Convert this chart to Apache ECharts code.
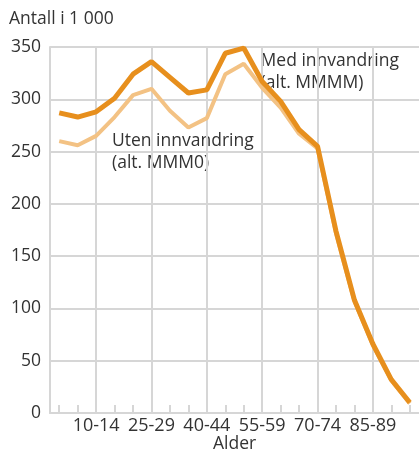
<!DOCTYPE html>
<html>
<head>
<meta charset="utf-8">
<script src="https://cdn.jsdelivr.net/npm/echarts@6/dist/echarts.min.js"></script>
<style>
  html, body { margin: 0; padding: 0; background: #fff; }
  #chart { width: 419px; height: 455px; }
</style>
</head>
<body>
<div id="chart"></div>
<script>
// age groups
const ageGroups = ['0-4', '5-9', '10-14', '15-19', '20-24', '25-29', '30-34', '35-39', '40-44', '45-49',
    '50-54', '55-59', '60-64', '65-69', '70-74', '75-79', '80-84', '85-89', '90-94', '95+']

// Med innvandring (alt. MMMM), thousands
const withImmigration = [287, 283, 288, 301, 324, 336, 321, 306, 309, 344,
    349, 317, 298, 271, 255, 174, 108, 66, 32, 10]

// Uten innvandring (alt. MMM0), thousands
const withoutImmigration = [260, 256, 265, 283, 304, 310, 289, 273, 282, 324,
    334, 311, 292, 267, 253, 172, 107, 65, 31, 9]

const yTicks = { min: 0, max: 350, interval: 50 }

const GRID = '#d6d6d6'
const TEXT = '#333'
const FONT = 'Open Sans'
const labelled = (i) => i % 3 === 2

const chart = echarts.init(document.getElementById('chart'))
chart.setOption({
    animation: false,
    textStyle: { fontFamily: FONT },
    grid: { left: 50, top: 47, width: 372, height: 366 },
    xAxis: {
        type: 'category',
        data: ageGroups,
        boundaryGap: true,
        axisLine: { lineStyle: { color: GRID, width: 2 } },
        axisTick: { show: true, inside: true, length: 8, interval: 0, alignWithLabel: true,
            lineStyle: { color: GRID, width: 2 } },
        axisLabel: { interval: labelled, color: TEXT, fontSize: 18, margin: 4, fontFamily: FONT },
        splitLine: { show: false }
    },
    yAxis: {
        type: 'value',
        min: yTicks.min,
        max: yTicks.max,
        interval: yTicks.interval,
        axisLine: { show: true, lineStyle: { color: GRID, width: 2 } },
        axisTick: { show: false },
        axisLabel: { color: TEXT, fontSize: 17.5, margin: 9, fontFamily: FONT },
        splitLine: { lineStyle: { color: GRID, width: 2 } }
    },
    series: [
        {
            name: 'Uten innvandring (alt. MMM0)',
            type: 'line',
            data: withoutImmigration,
            symbol: 'none',
            lineStyle: { color: '#f3c284', width: 4 },
            z: 2,
            // vertical grid lines at the labelled age groups
            markLine: {
                z: 1,
                silent: true,
                symbol: 'none',
                animation: false,
                label: { show: false },
                emphasis: { disabled: true },
                lineStyle: { color: GRID, width: 2, type: 'solid' },
                data: ageGroups.filter((_, i) => labelled(i)).map(a => ({ xAxis: a }))
            }
        },
        {
            name: 'Med innvandring (alt. MMMM)',
            type: 'line',
            data: withImmigration,
            symbol: 'none',
            lineStyle: { color: '#e78f1d', width: 5 },
            z: 3
        }
    ],
    graphic: [
        { type: 'text', left: 9, top: 10,
            style: { text: 'Antall i 1 000', fill: TEXT, font: `17.5px "${FONT}"` } },
        { type: 'text', right: 20, top: 50,
            style: { text: 'Med innvandring\n(alt. MMMM)', fill: TEXT, font: `17.5px "${FONT}"`,
                align: 'right', lineHeight: 22 } },
        { type: 'text', left: 112, top: 130,
            style: { text: 'Uten innvandring\n(alt. MMM0)', fill: TEXT, font: `17.5px "${FONT}"`,
                lineHeight: 22 } },
        { type: 'text', left: 213, top: 435,
            style: { text: 'Alder', fill: TEXT, font: `17.5px "${FONT}"` } }
    ]
})
</script>
</body>
</html>
